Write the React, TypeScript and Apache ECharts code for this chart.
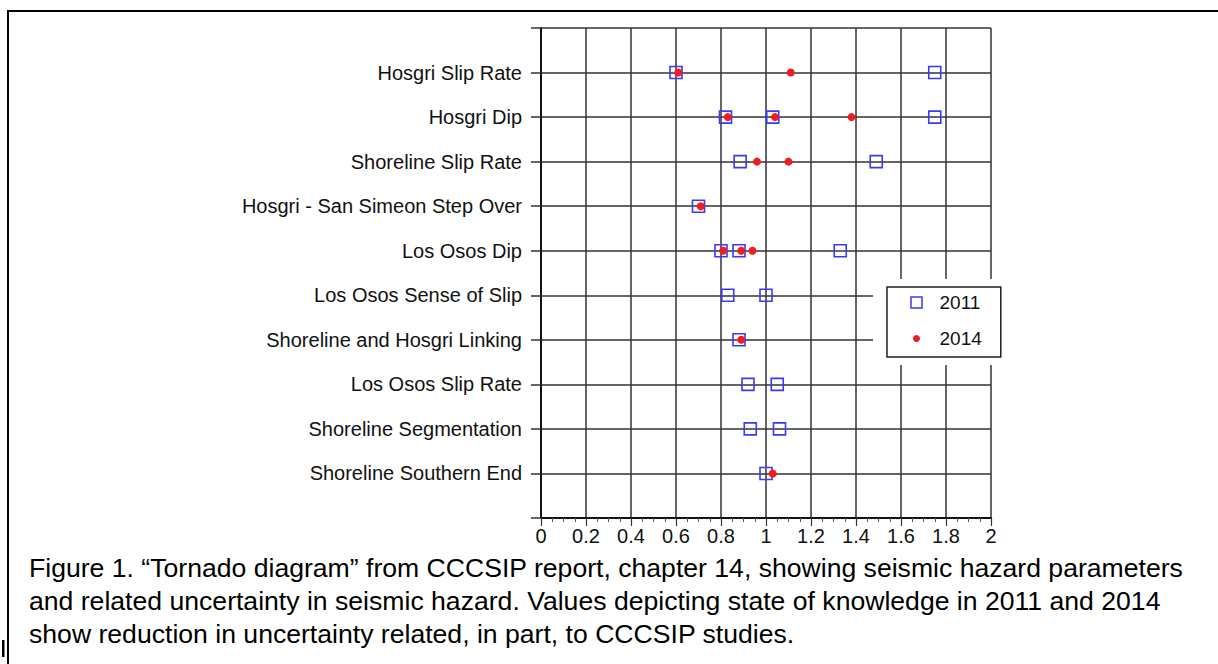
import React, { useEffect, useRef } from 'react';
import * as echarts from 'echarts';

const categories = [
  'Hosgri Slip Rate',
  'Hosgri Dip',
  'Shoreline Slip Rate',
  'Hosgri - San Simeon Step Over',
  'Los Osos Dip',
  'Los Osos Sense of Slip',
  'Shoreline and Hosgri Linking',
  'Los Osos Slip Rate',
  'Shoreline Segmentation',
  'Shoreline Southern End',
];

const values2011: number[][] = [
  [0.6, 1.75],
  [0.82, 1.03, 1.75],
  [0.885, 1.49],
  [0.7],
  [0.8, 0.88, 1.33],
  [0.83, 1.0],
  [0.88],
  [0.92, 1.05],
  [0.93, 1.06],
  [1.0],
];

const values2014: number[][] = [
  [0.61, 1.11],
  [0.83, 1.04, 1.38],
  [0.96, 1.1],
  [0.71],
  [0.81, 0.89, 0.94],
  [],
  [0.89],
  [],
  [],
  [1.03],
];

const seriesNames = ['2011', '2014'];

const captionLines = [
  'Figure 1. \u201CTornado diagram\u201D from CCCSIP report, chapter 14, showing seismic hazard parameters',
  'and related uncertainty in seismic hazard. Values depicting state of knowledge in 2011 and 2014',
  'show reduction in uncertainty related, in part, to CCCSIP studies.',
];

export default function App() {
  const ref = useRef<HTMLDivElement>(null);
  useEffect(() => {
    const chart = echarts.init(ref.current!, null, { renderer: 'svg' });
    const font = "'Liberation Sans', Arial, Helvetica, sans-serif";
    const blue = '#3a3af2';
    const red = '#f01c24';
    const gridColor = '#333';
    const d2011 = categories.flatMap((_, i) => values2011[i].map((v) => [v, i + 1]));
    const d2014 = categories.flatMap((_, i) => values2014[i].map((v) => [v, i + 1]));

    chart.setOption({
      animation: false,
      backgroundColor: '#fff',
      textStyle: { fontFamily: font },
      grid: { left: 541, right: 227, top: 28, bottom: 146 },
      xAxis: {
        type: 'value',
        min: 0,
        max: 2,
        interval: 0.2,
        axisLine: { show: true, onZero: false, lineStyle: { color: '#111', width: 2 } },
        axisTick: { show: true, length: 8, lineStyle: { color: gridColor, width: 1.2 } },
        minorTick: { show: true, splitNumber: 4, length: 4, lineStyle: { color: '#555', width: 1 } },
        splitLine: { show: true, lineStyle: { color: gridColor, width: 1.5 } },
        axisLabel: { color: '#111', fontSize: 20, fontFamily: font, margin: 8 },
      },
      yAxis: {
        type: 'value',
        min: 0,
        max: 11,
        interval: 1,
        inverse: true,
        axisLine: { show: true, lineStyle: { color: '#111', width: 2 } },
        axisTick: { show: true, length: 10, lineStyle: { color: gridColor, width: 1.5 } },
        splitLine: { show: true, lineStyle: { color: gridColor, width: 1.5 } },
        axisLabel: {
          color: '#111',
          fontSize: 20,
          fontFamily: font,
          margin: 19,
          formatter: (v: number) => categories[v - 1] ?? '',
        },
      },
      legend: {
        orient: 'vertical',
        left: 887,
        top: 287,
        itemWidth: 36,
        itemHeight: 11,
        itemGap: 17,
        padding: [6, 19, 9, 22],
        backgroundColor: '#fff',
        borderColor: '#222',
        borderWidth: 1.5,
        textStyle: { color: '#111', fontSize: 19, fontFamily: font },
        data: [
          {
            name: seriesNames[0],
            icon: 'path://M0,0H10V10H0Z',
            itemStyle: { color: 'transparent', borderColor: blue, borderWidth: 1.5 },
          },
          { name: seriesNames[1], icon: 'circle', itemStyle: { color: red, borderColor: '#fff', borderWidth: 4 } },
        ],
      },
      series: [
        {
          name: seriesNames[0],
          type: 'scatter',
          symbol: 'rect',
          symbolSize: 12,
          itemStyle: { color: 'transparent', borderColor: blue, borderWidth: 1.6, opacity: 1 },
          data: d2011,
          z: 3,
        },
        {
          name: seriesNames[1],
          type: 'scatter',
          symbol: 'circle',
          symbolSize: 8,
          itemStyle: { color: red, opacity: 1 },
          data: d2014,
          z: 4,
        },
      ],
      graphic: [
        { type: 'rect', z: 3, shape: { x: 873, y: 279, width: 134, height: 86 }, style: { fill: '#fff' } },
        { type: 'rect', z: 10, shape: { x: 7, y: 10, width: 1211, height: 2 }, style: { fill: '#000' } },
        { type: 'rect', z: 10, shape: { x: 7, y: 10, width: 2, height: 654 }, style: { fill: '#000' } },
        { type: 'rect', z: 10, shape: { x: 2, y: 640, width: 2.5, height: 17 }, style: { fill: '#000' } },
        ...captionLines.map((t, i) => ({
          type: 'text',
          z: 10,
          x: 29,
          y: 568 + i * 33,
          style: {
            text: t,
            fill: '#000',
            font: `26.6px ${font}`,
            verticalAlign: 'middle',
            align: 'left',
          },
        })),
      ],
    });
    return () => chart.dispose();
  }, []);
  return <div ref={ref} style={{ position: 'fixed', left: 0, top: 0, width: 1218, height: 664 }} />;
}
